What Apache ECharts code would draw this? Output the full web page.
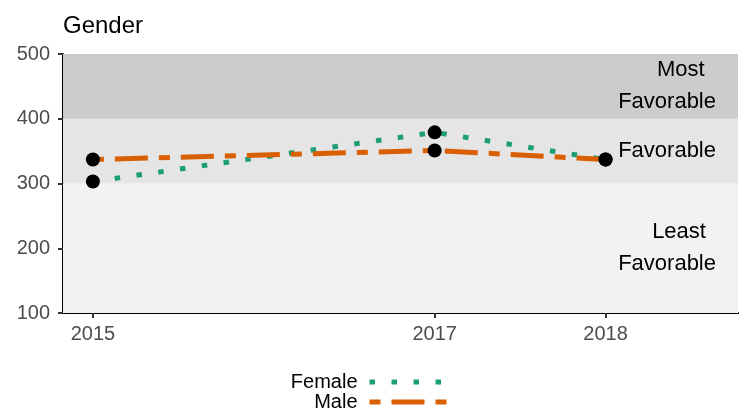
<!DOCTYPE html>
<html>
<head>
<meta charset="utf-8">
<script src="https://cdn.jsdelivr.net/npm/echarts@6/dist/echarts.min.js"></script>
<style>html,body{margin:0;padding:0;background:#fff}#c{width:746px;height:415px}</style>
</head>
<body>
<div id="c"></div>
<script>
const years = [2015, 2017, 2018];
const female = [303, 379, 337];
const male = [337, 351, 337];
const xTicks = [2015, 2017, 2018];
const yTicks = [100, 200, 300, 400, 500];
const bandEdges = [100, 300, 400, 500];
const bandColors = ['#f2f2f2', '#e5e5e5', '#cccccc'];
const bandLabels = [['Least', 'Favorable'], ['Favorable'], ['Most', 'Favorable']];
const bandLabelX = [[2018.43, 2018.36], [2018.36], [2018.44, 2018.36]];
const seriesNames = ['Female', 'Male'];
const title = 'Gender';

const FONT = '"Liberation Sans", Arial, Helvetica, sans-serif';
const chart = echarts.init(document.getElementById('c'), null, {renderer: 'canvas'});

const markAreaData = bandColors.map((c, i) => [
  {yAxis: bandEdges[i], itemStyle: {color: c}},
  {yAxis: bandEdges[i + 1]}
]);

const dashes = {Female: [5.5, 16.5], Male: [11, 11, 33, 11]};
const colors = {Female: '#1b9e77', Male: '#d95f02'};

const legends = seriesNames.map((n, i) => ({
  data: [n],
  orient: 'vertical', align: 'right',
  right: 296, top: 372 + i * 20, padding: 0,
  itemWidth: 78, itemHeight: 14, itemGap: 0,
  textStyle: {fontSize: 20, color: '#000', fontFamily: FONT, padding: [0, 7, 0, 0]},
  itemStyle: {opacity: 0},
  lineStyle: {width: 5, type: dashes[n], color: colors[n], cap: 'butt'},
  selectedMode: false
}));

const option = {
  animation: false,
  backgroundColor: '#ffffff',
  textStyle: {fontFamily: FONT},
  title: {
    text: title, left: 58, top: 9,
    textStyle: {fontFamily: FONT, fontSize: 24, fontWeight: 'normal', color: '#000'}
  },
  grid: {left: 63, right: 8, top: 54, bottom: 102, containLabel: false},
  xAxis: {
    type: 'value', min: 2014.825, max: 2018.775,
    axisLine: {show: true, onZero: false, lineStyle: {color: '#000', width: 2}},
    axisTick: {show: true, customValues: xTicks, length: 5, lineStyle: {color: '#333', width: 2}},
    axisLabel: {customValues: xTicks, margin: 11, fontSize: 20, color: '#4d4d4d', fontFamily: FONT, formatter: v => String(v)},
    splitLine: {show: false}
  },
  yAxis: {
    type: 'value', min: 100, max: 500, interval: 100,
    axisLine: {show: true, onZero: false, lineStyle: {color: '#000', width: 2}},
    axisTick: {show: true, length: 5, lineStyle: {color: '#333', width: 2}},
    axisLabel: {margin: 13, fontSize: 20, color: '#4d4d4d', fontFamily: FONT, formatter: v => String(v)},
    splitLine: {show: false}
  },
  legend: legends,
  series: [
    {
      name: 'Bands', type: 'line', data: [], silent: true,
      markArea: {silent: true, data: markAreaData, label: {show: false}}
    },
    ...seriesNames.map((n, k) => ({
      name: n, type: 'line',
      data: years.map((y, i) => [y, (k === 0 ? female : male)[i]]),
      symbol: 'none', z: 3,
      lineStyle: {color: colors[n], width: 5, type: dashes[n], cap: 'butt'},
      itemStyle: {color: colors[n]}
    })),
    ...seriesNames.map((n, k) => ({
      name: n + ' points', type: 'scatter', z: 5,
      data: years.map((y, i) => [y, (k === 0 ? female : male)[i]]),
      symbolSize: 14, itemStyle: {color: '#000', opacity: 1}
    }))
  ]
};
chart.setOption(option);

const graphics = [];
bandLabels.forEach((lines, i) => {
  const mid = (bandEdges[i] + bandEdges[i + 1]) / 2;
  const n = lines.length;
  lines.forEach((t, j) => {
    const p = chart.convertToPixel({gridIndex: 0}, [bandLabelX[i][j], mid]);
    const dy = (j - (n - 1) / 2) * 32;
    graphics.push({
      type: 'text', x: p[0], y: p[1] + dy, z: 10,
      style: {text: t, fontSize: 22, fontFamily: FONT, fill: '#000', align: 'center', verticalAlign: 'middle'}
    });
  });
});
chart.setOption({graphic: graphics});
</script>
</body>
</html>
